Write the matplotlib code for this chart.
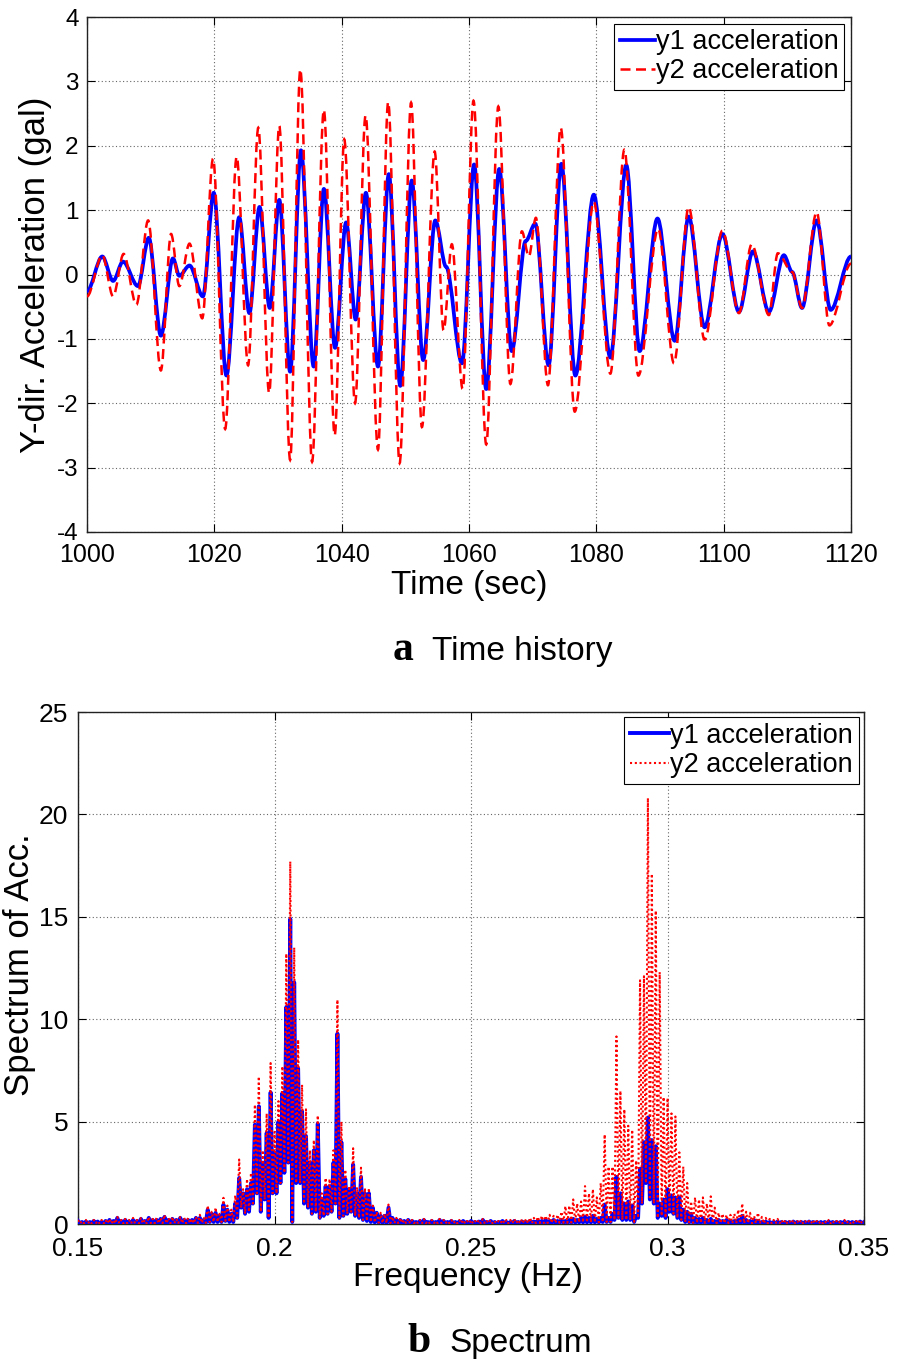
import numpy as np
import matplotlib
matplotlib.use("Agg")
import matplotlib.pyplot as plt
from matplotlib.path import Path
from matplotlib.patches import PathPatch
from matplotlib.lines import Line2D

# ---------------- (a) time history: extrema ----------------
t_y1 = [1000.0, 1002.4, 1004.1, 1005.65, 1008.0, 1009.7, 1011.6, 1013.5, 1014.5, 1016.1,
        1018.2, 1019.9, 1021.9, 1023.9, 1025.5, 1027.1, 1028.7, 1030.2, 1031.9, 1033.6,
        1035.6, 1037.2, 1038.96, 1040.7, 1042.2, 1043.8, 1045.7, 1047.4, 1049.2, 1051.0,
        1052.8, 1054.7, 1056.4, 1058.9, 1060.8, 1062.7, 1064.75, 1066.7, 1068.9, 1070.4,
        1072.5, 1074.5, 1076.7, 1079.6, 1082.2, 1084.7, 1086.8, 1089.6, 1092.3, 1094.5,
        1097.0, 1099.8, 1102.4, 1104.6, 1107.1, 1109.45, 1110.75, 1112.3, 1114.6, 1116.8,
        1120.0]
acc_y1 = [-0.26, 0.28, -0.10, 0.20, -0.18, 0.57, -0.95, 0.25, -0.02, 0.14,
          -0.34, 1.27, -1.57, 0.89, -0.60, 1.05, -0.52, 1.16, -1.51, 1.93,
          -1.43, 1.33, -1.14, 0.81, -0.70, 1.27, -1.43, 1.56, -1.73, 1.46,
          -1.33, 0.84, 0.12, -1.38, 1.71, -1.78, 1.64, -1.19, 0.52, 0.79,
          -1.41, 1.72, -1.57, 1.24, -1.29, 1.70, -1.19, 0.87, -1.03, 0.90,
          -0.82, 0.63, -0.58, 0.36, -0.58, 0.30, 0.04, -0.52, 0.84, -0.55,
          0.28]

t_y2 = [1000.0, 1002.4, 1004.1, 1005.75, 1007.75, 1009.6, 1011.6, 1013.2, 1014.5, 1016.1,
        1018.1, 1019.8, 1021.7, 1023.5, 1025.3, 1026.9, 1028.6, 1030.2, 1031.9, 1033.5,
        1035.35, 1037.2, 1038.9, 1040.4, 1042.1, 1043.75, 1045.7, 1047.3, 1049.1, 1050.9,
        1052.6, 1054.6, 1056.0, 1057.3, 1059.0, 1060.7, 1062.7, 1064.6, 1066.5, 1068.3,
        1069.4, 1070.5, 1072.4, 1074.4, 1076.6, 1079.6, 1082.2, 1084.4, 1086.6, 1089.7,
        1092.2, 1094.5, 1097.0, 1099.8, 1102.4, 1104.4, 1107.1, 1108.5, 1110.75, 1112.3,
        1114.6, 1116.6, 1120.0]
acc_y2 = [-0.34, 0.30, -0.34, 0.32, -0.47, 0.84, -1.49, 0.63, -0.18, 0.48,
          -0.68, 1.80, -2.40, 1.83, -1.41, 2.28, -1.84, 2.31, -2.88, 3.19,
          -2.91, 2.56, -2.50, 2.10, -2.00, 2.47, -2.72, 2.68, -2.93, 2.67,
          -2.37, 1.91, -0.87, 0.47, -1.78, 2.70, -2.64, 2.61, -1.70, 0.67,
          0.28, 0.88, -1.72, 2.28, -2.13, 1.13, -1.54, 1.94, -1.57, 0.71,
          -1.38, 1.05, -1.01, 0.68, -0.60, 0.47, -0.63, 0.33, 0.04, -0.52,
          0.97, -0.79, 0.17]

time_ticks = [1000, 1020, 1040, 1060, 1080, 1100, 1120]
acc_ticks = [-4, -3, -2, -1, 0, 1, 2, 3, 4]

# ---------------- (b) spectrum: local peaks every 0.001 Hz, lows in between ----------------
freq_grid = np.linspace(0.150, 0.350, 201)
spec_y1_peak = [
    0.15, 0.10, 0.12, 0.10, 0.15, 0.12, 0.10, 0.15, 0.20, 0.15,
    0.30, 0.15, 0.20, 0.12, 0.20, 0.15, 0.25, 0.15, 0.30, 0.20,
    0.20, 0.25, 0.35, 0.20, 0.25, 0.20, 0.30, 0.20, 0.20, 0.20,
    0.30, 0.30, 0.20, 0.70, 0.50, 0.55, 0.40, 0.95, 0.70, 0.50,
    1.00, 2.25, 1.50, 1.70, 2.00, 4.85, 5.75, 3.00, 4.45, 6.43,
    3.50, 5.00, 6.40, 10.6, 14.9, 11.8, 7.60, 5.50, 4.30, 3.00,
    3.60, 4.90, 1.20, 1.85, 1.85, 3.00, 9.30, 4.00, 2.20, 1.70,
    2.90, 1.50, 2.30, 1.50, 1.50, 0.80, 0.55, 0.40, 0.40, 0.80,
    0.30, 0.20, 0.20, 0.15, 0.20, 0.15, 0.10, 0.15, 0.20, 0.10,
    0.15, 0.10, 0.20, 0.15, 0.10, 0.15, 0.10, 0.12, 0.15, 0.10,
    0.15, 0.10, 0.12, 0.20, 0.10, 0.15, 0.10, 0.10, 0.15, 0.10,
    0.10, 0.15, 0.10, 0.12, 0.10, 0.15, 0.12, 0.15, 0.15, 0.20,
    0.15, 0.20, 0.15, 0.20, 0.15, 0.20, 0.25, 0.20, 0.30, 0.35,
    0.30, 0.40, 0.25, 0.30, 0.95, 0.30, 0.50, 2.30, 1.50, 1.00,
    1.10, 0.90, 0.40, 2.70, 4.00, 5.20, 4.10, 3.80, 1.00, 1.20,
    1.70, 1.40, 1.30, 1.30, 0.70, 0.60, 0.50, 0.30, 0.25, 0.30,
    0.20, 0.25, 0.15, 0.20, 0.15, 0.20, 0.15, 0.15, 0.20, 0.40,
    0.20, 0.15, 0.20, 0.15, 0.10, 0.12, 0.10, 0.10, 0.12, 0.10,
    0.10, 0.10, 0.12, 0.10, 0.10, 0.10, 0.12, 0.10, 0.10, 0.10,
    0.10, 0.12, 0.10, 0.10, 0.10, 0.12, 0.10, 0.10, 0.10, 0.12,
    0.10]
spec_y2_peak = [
    0.20, 0.15, 0.20, 0.15, 0.20, 0.15, 0.20, 0.20, 0.25, 0.20,
    0.35, 0.20, 0.25, 0.20, 0.30, 0.20, 0.30, 0.20, 0.35, 0.25,
    0.30, 0.30, 0.45, 0.30, 0.35, 0.25, 0.35, 0.30, 0.30, 0.25,
    0.35, 0.45, 0.30, 0.90, 0.60, 0.80, 0.50, 1.28, 0.90, 0.70,
    1.40, 3.15, 1.70, 2.20, 2.50, 5.83, 7.20, 3.60, 5.40, 7.86,
    4.50, 6.00, 7.70, 13.2, 17.7, 13.5, 9.00, 6.80, 5.60, 3.60,
    4.10, 5.30, 1.50, 2.25, 2.20, 3.60, 10.95, 5.00, 2.65, 1.85,
    3.70, 1.80, 2.75, 1.75, 1.75, 0.90, 0.60, 0.55, 0.50, 0.95,
    0.35, 0.30, 0.30, 0.20, 0.25, 0.20, 0.15, 0.20, 0.25, 0.15,
    0.20, 0.15, 0.25, 0.20, 0.15, 0.20, 0.15, 0.20, 0.20, 0.15,
    0.20, 0.15, 0.20, 0.25, 0.15, 0.20, 0.15, 0.15, 0.20, 0.20,
    0.20, 0.25, 0.20, 0.25, 0.25, 0.30, 0.30, 0.35, 0.40, 0.40,
    0.45, 0.40, 0.45, 0.60, 0.87, 0.90, 1.20, 1.00, 1.10, 1.85,
    1.50, 1.70, 1.30, 2.00, 4.37, 2.80, 2.80, 9.16, 6.50, 5.60,
    4.80, 4.60, 3.10, 11.9, 12.1, 20.8, 17.1, 15.3, 12.3, 6.20,
    6.15, 5.40, 5.25, 3.50, 2.80, 2.00, 1.10, 1.30, 1.20, 1.30,
    1.00, 1.35, 0.80, 0.55, 0.50, 0.45, 0.45, 0.50, 0.70, 1.00,
    0.60, 0.55, 0.40, 0.55, 0.35, 0.30, 0.25, 0.20, 0.25, 0.20,
    0.20, 0.15, 0.20, 0.15, 0.20, 0.15, 0.15, 0.20, 0.15, 0.15,
    0.15, 0.20, 0.15, 0.15, 0.15, 0.20, 0.15, 0.15, 0.15, 0.20,
    0.15]
spec_low = [
    0.02, 0.03, 0.02, 0.02, 0.03, 0.02, 0.02, 0.03, 0.02, 0.03,
    0.03, 0.02, 0.03, 0.02, 0.03, 0.02, 0.03, 0.02, 0.04, 0.03,
    0.03, 0.04, 0.03, 0.03, 0.04, 0.03, 0.04, 0.03, 0.04, 0.04,
    0.05, 0.05, 0.05, 0.10, 0.10, 0.10, 0.10, 0.15, 0.10, 0.10,
    0.30, 0.80, 0.50, 0.60, 1.00, 1.50, 0.60, 1.20, 0.30, 1.50,
    1.50, 2.00, 2.50, 3.00, 0.10, 2.00, 2.00, 1.00, 0.80, 0.50,
    0.60, 0.30, 0.40, 0.50, 0.60, 1.00, 0.30, 0.40, 0.50, 0.60,
    0.40, 0.30, 0.20, 0.15, 0.10, 0.08, 0.06, 0.05, 0.05, 0.05,
    0.04, 0.03, 0.04, 0.03, 0.03, 0.04, 0.03, 0.03, 0.04, 0.03,
    0.03, 0.04, 0.03, 0.03, 0.04, 0.03, 0.03, 0.04, 0.03, 0.03,
    0.03, 0.04, 0.03, 0.03, 0.04, 0.03, 0.03, 0.04, 0.03, 0.03,
    0.03, 0.04, 0.03, 0.04, 0.03, 0.04, 0.04, 0.05, 0.05, 0.05,
    0.05, 0.05, 0.06, 0.06, 0.06, 0.07, 0.07, 0.08, 0.08, 0.08,
    0.08, 0.08, 0.08, 0.10, 0.10, 0.10, 0.20, 0.30, 0.20, 0.20,
    0.20, 0.10, 0.30, 1.00, 2.00, 1.20, 1.00, 0.30, 0.40, 0.30,
    0.60, 0.50, 0.30, 0.20, 0.10, 0.08, 0.06, 0.05, 0.05, 0.05,
    0.05, 0.04, 0.04, 0.04, 0.04, 0.04, 0.04, 0.04, 0.04, 0.04,
    0.04, 0.03, 0.04, 0.03, 0.03, 0.03, 0.03, 0.03, 0.03, 0.03,
    0.03, 0.03, 0.03, 0.03, 0.03, 0.03, 0.03, 0.03, 0.03, 0.03,
    0.03, 0.03, 0.03, 0.03, 0.03, 0.03, 0.03, 0.03, 0.03, 0.03]

freq_ticks = [0.15, 0.2, 0.25, 0.3, 0.35]
freq_ticklabels = ["0.15", "0.2", "0.25", "0.3", "0.35"]
spec_ticks = [0, 5, 10, 15, 20, 25]
series_labels = ["y1 acceleration", "y2 acceleration"]

# ---------------- styling ----------------
plt.rcParams['font.family'] = ['Liberation Sans', 'DejaVu Sans']
plt.rcParams['axes.unicode_minus'] = False
BLUE = '#0000ff'
RED = '#ff0000'
GRID = dict(color='#666666', linestyle=(0, (1, 2.2)), linewidth=0.8)


def smooth_path(t, v):
    """Bezier path through the extrema with flat tangents at each of them."""
    verts = [(t[0], v[0])]
    codes = [Path.MOVETO]
    for i in range(len(t) - 1):
        dt = t[i + 1] - t[i]
        verts += [(t[i] + dt / 3.0, v[i]), (t[i + 1] - dt / 3.0, v[i + 1]), (t[i + 1], v[i + 1])]
        codes += [Path.CURVE4] * 3
    return Path(verts, codes)


def style_axes(ax, xsize, ysize, xpad, ypad):
    ax.tick_params(direction='in', length=6, width=0.8, top=True, right=True,
                   colors='black')
    ax.tick_params(axis='x', pad=xpad, labelsize=xsize)
    ax.tick_params(axis='y', pad=ypad, labelsize=ysize)
    for s in ax.spines.values():
        s.set_linewidth(1.0)
        s.set_color('#222222')
    ax.grid(True, **GRID)
    ax.set_axisbelow(True)


fig = plt.figure(figsize=(8.98, 13.62), dpi=100)

# ---- top panel ----
ax1 = fig.add_axes([0.0969, 0.6094, 0.8508, 0.3781])
ax1.add_patch(PathPatch(smooth_path(t_y1, acc_y1), fill=False, edgecolor=BLUE, lw=2.7,
                        joinstyle='round', zorder=3))
ax1.add_patch(PathPatch(smooth_path(t_y2, acc_y2), fill=False, edgecolor=RED, lw=1.8,
                        linestyle=(0, (4.0, 2.2)), zorder=4))
ax1.set_xlim(1000, 1120)
ax1.set_ylim(-4, 4)
ax1.set_xticks(time_ticks)
ax1.set_yticks(acc_ticks)
style_axes(ax1, 18, 17.5, 8, 6)
ax1.set_xlabel("Time (sec)", fontsize=24)
ax1.xaxis.set_label_coords(0.5, -0.104)
ax1.xaxis.label.set_va('center')
ax1.set_ylabel("Y-dir. Acceleration (gal)", fontsize=25)
ax1.yaxis.set_label_coords(-0.068, 0.5)
ax1.yaxis.label.set_va('center')
h1 = [Line2D([], [], color=BLUE, lw=2.7),
      Line2D([], [], color=RED, lw=1.8, linestyle=(0, (4.0, 2.2)))]
leg1 = ax1.legend(h1, series_labels, loc='upper right', fontsize=19.5, frameon=True,
                  fancybox=False, edgecolor='black', framealpha=1, borderpad=0.2,
                  labelspacing=0.12, handlelength=1.3, handletextpad=0.05,
                  borderaxespad=0.25)
leg1.get_frame().set_linewidth(0.8)

# ---- bottom panel ----
ax2 = fig.add_axes([0.0869, 0.1013, 0.8753, 0.3759])
f_lo = freq_grid[:-1] + 0.0005
xs = np.empty(len(freq_grid) + len(f_lo))
xs[0::2] = freq_grid
xs[1::2] = f_lo
s1 = np.empty_like(xs)
s1[0::2] = spec_y1_peak
s1[1::2] = spec_low
s2 = np.empty_like(xs)
s2[0::2] = spec_y2_peak
s2[1::2] = spec_low
ax2.plot(xs, s1, color=BLUE, lw=2.8, zorder=3)
ax2.plot(xs, s2, color=RED, lw=1.5, linestyle=(0, (1.0, 1.3)), zorder=4)
ax2.set_xlim(0.15, 0.35)
ax2.set_ylim(0, 25)
ax2.set_xticks(freq_ticks)
ax2.set_xticklabels(freq_ticklabels)
ax2.set_yticks(spec_ticks)
style_axes(ax2, 19, 19, 9, 7)
ax2.set_xlabel("Frequency (Hz)", fontsize=24)
ax2.xaxis.set_label_coords(0.496, -0.1035)
ax2.xaxis.label.set_va('center')
ax2.set_ylabel("Spectrum of Acc.", fontsize=25)
ax2.yaxis.set_label_coords(-0.074, 0.506)
ax2.yaxis.label.set_va('center')
h2 = [Line2D([], [], color=BLUE, lw=2.8),
      Line2D([], [], color=RED, lw=1.5, linestyle=(0, (1.0, 1.3)))]
leg2 = ax2.legend(h2, series_labels, loc='upper right', fontsize=19.5, frameon=True,
                  fancybox=False, edgecolor='black', framealpha=1, borderpad=0.2,
                  labelspacing=0.12, handlelength=1.45, handletextpad=0.05,
                  borderaxespad=0.2)
leg2.get_frame().set_linewidth(0.8)

# ---- captions ----
fig.text(393 / 898, 1 - 660 / 1362, "a", fontsize=30, fontweight='bold',
         family=['Liberation Serif', 'DejaVu Serif'], ha='left', va='baseline')
fig.text(432 / 898, 1 - 660 / 1362, "Time history", fontsize=24, ha='left', va='baseline')
fig.text(407 / 898, 1 - 1352 / 1362, "b", fontsize=30, fontweight='bold',
         family=['Liberation Serif', 'DejaVu Serif'], ha='left', va='baseline')
fig.text(449 / 898, 1 - 1352 / 1362, "Spectrum", fontsize=24, ha='left', va='baseline')

fig.savefig("out.png", dpi=100)
